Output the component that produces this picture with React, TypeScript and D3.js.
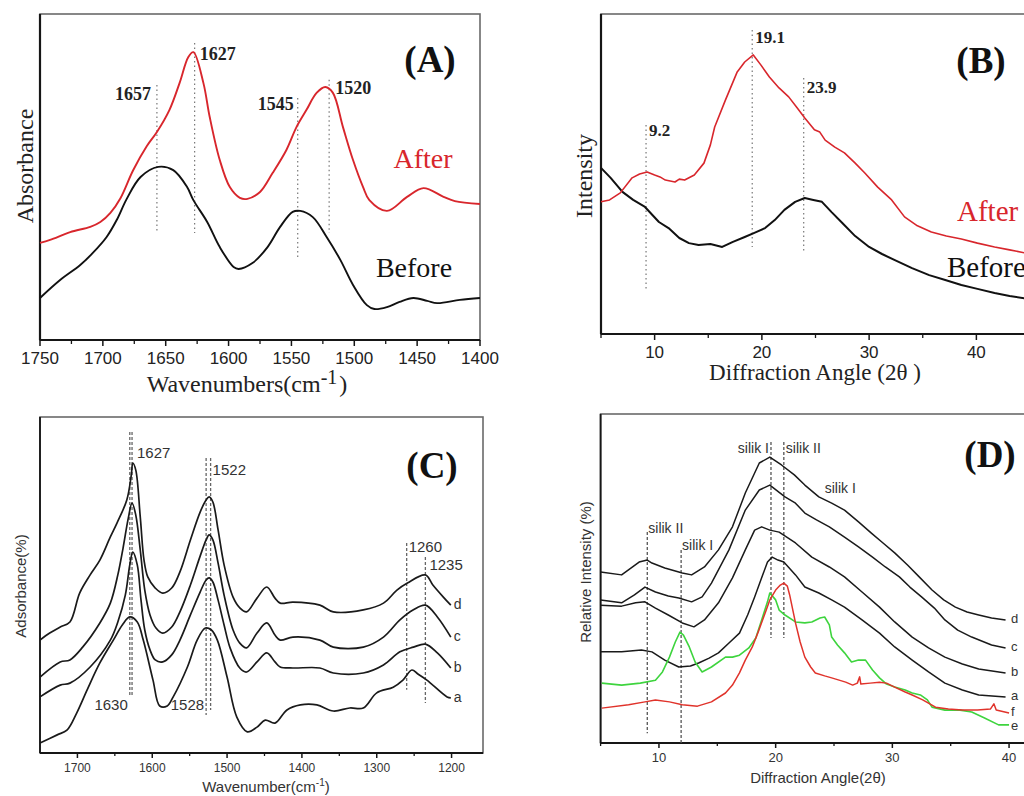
import React from 'react';
import * as d3 from 'd3';

type Pt = [number, number];
type Box = { x0: number; x1: number; y0: number; y1: number };

const SERIF = '"Liberation Serif", "DejaVu Serif", serif';
const SANS = '"Liberation Sans", Arial, sans-serif';
const RED = '#d8262c';
const GREEN = '#3ed43e';

// ---------- (A) FTIR, wavenumber vs absorbance (a.u.)
const aAfter: Pt[] = [
  [1750, 29.8], [1742, 30.7], [1726, 33.1], [1710, 34.7], [1702, 36.2], [1694, 39.0], [1686, 43.5],
  [1676, 52.0], [1665, 59.5], [1657, 63.8], [1647, 70.6], [1639, 78.8], [1632, 86.8], [1628, 88.3],
  [1620, 78.8], [1615, 68.4], [1607, 55.2], [1599, 46.9], [1591, 43.6], [1585, 43.3], [1575, 45.4],
  [1565, 51.2], [1554, 58.3], [1546, 65.3], [1538, 70.6], [1530, 75.8], [1523, 77.6], [1517, 75.8],
  [1509, 65.3], [1501, 55.2], [1493, 46.9], [1488, 42.9], [1474, 39.6], [1458, 43.9], [1445, 46.6],
  [1429, 43.9], [1420, 42.6], [1400, 41.7],
];
const aBefore: Pt[] = [
  [1750, 12.9], [1734, 18.4], [1718, 23.0], [1708, 26.7], [1697, 31.6], [1689, 36.8], [1681, 43.3],
  [1670, 50.0], [1656, 53.1], [1644, 52.1], [1633, 46.9], [1628, 42.9], [1617, 36.2], [1607, 28.5],
  [1596, 22.4], [1592, 21.8], [1581, 23.6], [1569, 28.5], [1559, 34.7], [1549, 39.3], [1543, 39.6],
  [1533, 37.7], [1522, 31.6], [1511, 24.5], [1501, 16.9], [1490, 10.7], [1484, 9.5], [1474, 10.1],
  [1464, 11.7], [1453, 12.9], [1442, 12.0], [1434, 11.3], [1416, 12.3], [1400, 12.9],
];
const aMajor = [1750, 1700, 1650, 1600, 1550, 1500, 1450, 1400];
const aMinor = [1725, 1675, 1625, 1575, 1525, 1475, 1425];
const aPeaks = [1657, 1627, 1545, 1520];
const aPeakTop = [78.2, 91.1, 74.2, 79.8];
const aPeakBottom = [32.8, 32.8, 24.8, 32.8];

// ---------- (B) XRD, 2theta vs intensity
const bAfter: Pt[] = [
  [5.0, 41.3], [5.8, 41.9], [6.8, 44.1], [7.9, 48.8], [8.6, 50.0], [9.3, 50.6], [10.0, 49.7], [10.5, 49.1],
  [11.0, 48.1], [11.9, 47.5], [12.3, 48.4], [12.8, 48.1], [13.7, 49.7], [14.6, 53.4], [15.2, 59.1],
  [15.6, 64.7], [16.6, 73.1], [17.7, 81.9], [18.4, 85.0], [19.2, 87.2], [19.9, 84.1], [20.7, 80.3],
  [21.6, 76.9], [22.5, 74.1], [23.3, 70.6], [24.0, 67.5], [24.9, 63.8], [25.4, 63.1], [25.9, 60.6],
  [26.8, 58.4], [27.7, 56.6], [28.7, 53.4], [29.6, 50.3], [30.8, 45.9], [32.1, 41.9], [33.3, 36.6],
  [34.5, 33.8], [35.8, 31.9], [37.2, 30.6], [38.6, 29.7], [40.1, 28.4], [41.7, 27.2], [43.1, 26.3],
  [45.0, 25.0],
];
const bBefore: Pt[] = [
  [5.0, 51.9], [5.9, 48.8], [7.0, 44.4], [8.0, 41.9], [9.1, 39.7], [10.4, 35.0], [11.3, 33.1],
  [12.3, 30.0], [13.2, 28.4], [14.1, 27.8], [15.2, 28.1], [16.3, 27.2], [17.3, 28.8], [18.4, 30.3],
  [19.3, 31.6], [20.3, 33.1], [21.2, 35.6], [22.1, 38.8], [23.1, 41.3], [24.0, 42.5], [24.8, 41.9],
  [25.6, 41.3], [26.5, 38.1], [27.5, 34.7], [28.7, 30.6], [30.0, 27.2], [31.2, 25.0], [32.4, 23.1],
  [34.0, 20.6], [35.6, 18.4], [37.1, 16.9], [38.6, 15.3], [40.1, 14.1], [41.7, 12.8], [43.1, 11.9],
  [45.0, 10.9],
];
const bMajor = [10, 20, 30, 40];
const bMinor = [5, 15, 25, 35, 45];
const bPeaks = [9.2, 19.1, 23.9];
const bPeakTop = [65.3, 95.0, 80.0];
const bPeakBottom = [13.8, 27.2, 25.6];

// ---------- (C) FTIR of samples a-d
const cA: Pt[] = [
  [1750, 3.0], [1727, 5.4], [1714, 6.8], [1701, 11.9], [1687, 18.8], [1670, 26.8], [1652, 33.6],
  [1640, 38.1], [1630, 40.5], [1620, 39.0], [1612, 33.6], [1599, 21.7], [1590, 14.0], [1580, 14.0],
  [1572, 16.7], [1553, 25.6], [1540, 33.6], [1529, 37.2], [1521, 36.6], [1513, 33.6], [1500, 22.6],
  [1487, 10.7], [1473, 6.3], [1460, 7.7], [1449, 9.8], [1436, 8.9], [1420, 12.8], [1402, 14.3],
  [1380, 14.3], [1358, 12.5], [1336, 13.4], [1318, 13.4], [1300, 17.9], [1278, 19.6], [1265, 21.7],
  [1253, 24.7], [1245, 23.5], [1233, 21.7], [1206, 16.7], [1201, 16.4],
];
const cB: Pt[] = [
  [1750, 16.7], [1723, 20.2], [1710, 20.8], [1683, 25.6], [1656, 33.6], [1646, 39.0], [1636, 47.0],
  [1630, 56.0], [1626, 59.8], [1620, 56.0], [1615, 45.5], [1610, 36.6], [1603, 30.7], [1596, 27.7],
  [1586, 27.1], [1574, 29.2], [1563, 33.6], [1549, 41.1], [1536, 47.9], [1528, 51.5], [1524, 52.1],
  [1519, 50.9], [1512, 45.5], [1504, 38.1], [1496, 31.3], [1483, 25.3], [1474, 24.1], [1460, 27.1],
  [1447, 29.8], [1436, 27.1], [1429, 25.6], [1412, 25.3], [1376, 25.3], [1358, 23.8], [1318, 23.8],
  [1291, 26.2], [1269, 30.1], [1251, 31.5], [1235, 32.4], [1219, 29.8], [1201, 25.3],
];
const cC: Pt[] = [
  [1750, 22.6], [1723, 27.1], [1710, 27.7], [1693, 31.5], [1670, 38.7], [1656, 44.6], [1646, 53.0],
  [1639, 61.0], [1632, 69.9], [1627, 74.4], [1622, 70.8], [1616, 60.4], [1610, 48.5], [1603, 41.1],
  [1595, 37.2], [1586, 35.7], [1574, 37.5], [1563, 42.0], [1549, 50.0], [1536, 58.6], [1528, 63.4],
  [1524, 64.9], [1519, 63.4], [1512, 56.5], [1504, 47.0], [1492, 36.6], [1483, 32.7], [1474, 31.3],
  [1460, 35.7], [1447, 38.7], [1436, 35.1], [1429, 33.6], [1412, 34.5], [1376, 33.6], [1358, 31.5],
  [1318, 31.5], [1291, 34.5], [1269, 39.6], [1251, 42.6], [1235, 44.0], [1219, 40.5], [1201, 34.5],
];
const cD: Pt[] = [
  [1750, 33.6], [1737, 35.7], [1723, 37.5], [1710, 39.0], [1697, 47.6], [1683, 53.0], [1670, 57.4],
  [1656, 64.3], [1647, 68.5], [1634, 75.3], [1628, 82.7], [1626, 86.3], [1622, 84.2], [1616, 70.2],
  [1611, 57.4], [1606, 52.4], [1596, 49.1], [1586, 47.6], [1574, 49.1], [1563, 53.9], [1549, 63.4],
  [1536, 71.7], [1528, 75.3], [1524, 76.2], [1519, 74.7], [1512, 66.4], [1504, 56.0], [1492, 46.4],
  [1483, 43.2], [1474, 42.0], [1460, 46.1], [1447, 49.4], [1436, 46.1], [1429, 44.6], [1412, 44.9],
  [1376, 44.0], [1358, 42.0], [1318, 42.6], [1291, 44.6], [1273, 48.5], [1259, 50.6], [1235, 53.0],
  [1225, 50.0], [1211, 46.4], [1201, 44.0],
];
const cSeries = [cA, cB, cC, cD];
const cNames = ['a', 'b', 'c', 'd'];
const cMajor = [1700, 1600, 1500, 1400, 1300, 1200];
const cMinor = [1650, 1550, 1450, 1350, 1250];
const cGuides = [1630, 1627, 1528, 1522, 1260, 1235];
const cGuideTop = [95.5, 95.5, 87.8, 87.8, 62.5, 58.3];
const cGuideBottom = [16.7, 16.7, 11.3, 12.8, 18.8, 14.9];

// ---------- (D) XRD of samples a-f
const dA: Pt[] = [
  [5.0, 27.7], [6.8, 27.7], [8.5, 28.3], [9.4, 27.7], [10.5, 25.2], [11.7, 23.1], [12.7, 23.4],
  [13.4, 24.3], [14.3, 25.8], [15.1, 27.4], [16.0, 30.4], [16.9, 33.4], [17.6, 38.9], [18.2, 44.4],
  [18.8, 50.2], [19.3, 55.0], [19.7, 56.5], [20.2, 55.6], [20.7, 55.0], [21.7, 51.1], [22.5, 47.4],
  [23.7, 45.6], [24.8, 43.5], [25.9, 41.3], [27.4, 37.4], [28.9, 33.4], [30.2, 29.2], [31.7, 25.2],
  [33.1, 21.6], [34.5, 18.2], [36.0, 16.1], [37.4, 14.6], [39.7, 14.0],
];
const dB: Pt[] = [
  [5.0, 41.9], [6.8, 41.6], [8.0, 42.6], [8.8, 42.9], [9.7, 41.0], [10.8, 38.9], [12.0, 36.5],
  [13.0, 35.3], [13.9, 37.4], [15.1, 42.6], [16.3, 50.2], [17.4, 58.7], [18.2, 64.7], [18.8, 65.7],
  [19.5, 64.7], [20.3, 64.1], [21.7, 60.8], [23.1, 56.5], [24.6, 53.5], [25.9, 50.5], [27.4, 45.9],
  [28.9, 41.3], [30.2, 36.8], [31.7, 32.2], [33.1, 28.9], [34.5, 26.1], [36.0, 24.0], [37.4, 22.5],
  [39.7, 21.3],
];
const dC: Pt[] = [
  [5.0, 43.5], [6.8, 42.6], [7.9, 45.0], [8.8, 47.4], [9.7, 45.9], [10.8, 44.7], [11.7, 44.1],
  [12.8, 42.9], [13.7, 44.4], [14.5, 48.6], [16.0, 58.7], [17.4, 70.8], [18.6, 76.9], [19.5, 78.4],
  [20.8, 74.8], [21.7, 72.9], [22.5, 69.9], [23.5, 67.8], [24.6, 65.7], [25.9, 62.6], [27.1, 59.6],
  [28.3, 56.5], [29.4, 53.5], [30.6, 50.5], [31.5, 47.4], [32.5, 44.4], [33.6, 41.0], [34.5, 37.4],
  [35.6, 34.3], [36.8, 32.2], [38.5, 29.8], [39.7, 28.9],
];
const dD: Pt[] = [
  [5.0, 52.0], [6.8, 51.1], [8.3, 55.0], [9.0, 55.6], [9.4, 54.7], [10.5, 53.2], [12.0, 51.7],
  [12.8, 51.1], [13.9, 53.5], [15.1, 58.7], [16.3, 65.7], [17.4, 76.0], [18.6, 85.1], [19.5, 86.9],
  [20.5, 84.5], [21.6, 81.5], [22.5, 78.4], [23.7, 74.8], [24.8, 72.9], [25.9, 70.8], [27.1, 67.2],
  [28.2, 63.8], [29.2, 60.8], [30.2, 57.8], [31.3, 54.1], [32.3, 50.5], [33.4, 46.5], [34.4, 43.5],
  [35.4, 41.3], [36.4, 39.8], [37.4, 38.9], [38.5, 38.0], [39.7, 37.4],
];
const dE: Pt[] = [
  [5.1, 18.2], [6.8, 17.6], [8.4, 18.2], [9.7, 19.1], [10.3, 21.6], [10.9, 26.1], [11.4, 30.7],
  [11.8, 33.7], [12.1, 32.8], [12.6, 29.2], [13.1, 24.6], [13.7, 21.6], [14.5, 23.1], [15.7, 26.1],
  [16.3, 26.1], [16.9, 26.7], [17.7, 28.9], [18.3, 31.9], [18.8, 37.4], [19.3, 42.9], [19.5, 45.6],
  [20.0, 43.5], [20.3, 40.4], [20.8, 38.9], [21.7, 36.8], [22.5, 36.5], [23.1, 36.8], [23.8, 38.0],
  [24.2, 38.3], [24.6, 35.9], [24.8, 32.2], [25.3, 29.8], [25.9, 27.4], [26.5, 24.6], [27.1, 25.2],
  [27.7, 25.2], [28.3, 22.2], [28.9, 19.8], [29.5, 17.9], [30.2, 17.0], [31.1, 16.1], [31.7, 15.2],
  [32.4, 14.6], [33.0, 13.1], [33.4, 10.9], [34.5, 10.0], [35.8, 10.0], [36.8, 9.4], [37.9, 7.6],
  [39.1, 5.5], [40.0, 5.5],
];
const dF: Pt[] = [
  [5.1, 10.6], [7.4, 11.6], [8.8, 12.5], [9.7, 13.1], [10.9, 12.5], [12.0, 11.6], [13.3, 11.2],
  [14.5, 12.5], [15.7, 15.2], [16.3, 17.6], [16.9, 21.3], [17.4, 25.2], [18.0, 29.2], [18.5, 33.7],
  [19.1, 39.5], [19.5, 43.5], [20.0, 46.5], [20.4, 48.0], [20.7, 48.6], [21.0, 47.7], [21.2, 45.0],
  [21.7, 36.5], [22.1, 30.7], [22.5, 26.1], [23.0, 23.1], [23.4, 21.3], [24.2, 20.4], [24.8, 19.8],
  [26.0, 18.5], [26.6, 17.6], [27.0, 18.2], [27.2, 20.1], [27.3, 17.9], [28.1, 18.2], [28.9, 18.5],
  [29.5, 18.2], [30.2, 17.0], [31.1, 15.5], [31.7, 14.6], [32.6, 13.1], [33.7, 10.9], [34.8, 10.3],
  [36.0, 10.0], [37.3, 10.0], [38.4, 10.3], [38.7, 11.9], [38.9, 10.0], [40.0, 9.1],
];
const dBlack = [dA, dB, dC, dD];
const dNames = ['d', 'c', 'b', 'a', 'f', 'e'];
const dEnds = [dD, dC, dB, dA, dF, dE];
const dMajor = [10, 20, 30, 40];
const dMinor = [5, 15, 25, 35];
const dGuides = [9.0, 11.9, 19.6, 20.7];
const dGuideTop = [64.1, 58.7, 91.5, 91.5];
const dGuideBottom = [3.0, 0, 31.9, 31.9];

type Scale = d3.ScaleLinear<number, number>;

function Axes(p: {
  b: Box; xs: Scale; major: number[]; minor: number[]; font: string; size: number;
  gap: number; majorLen: number; minorLen: number; axisW: number; color?: string;
}) {
  const { b, xs } = p;
  return (
    <g>
      <rect x={b.x0} y={b.y0} width={b.x1 - b.x0} height={b.y1 - b.y0} fill="none" stroke="#6a6a6a" strokeWidth={1.6} />
      <line x1={b.x0} x2={b.x0} y1={b.y0} y2={b.y1} stroke="#161616" strokeWidth={p.axisW} />
      <line x1={b.x0} x2={b.x1} y1={b.y1} y2={b.y1} stroke="#161616" strokeWidth={p.axisW} />
      {p.minor.map(t => (
        <line key={'m' + t} x1={xs(t)} x2={xs(t)} y1={b.y1} y2={b.y1 + p.minorLen} stroke="#161616" strokeWidth={1.3} />
      ))}
      {p.major.map(t => (
        <g key={t}>
          <line x1={xs(t)} x2={xs(t)} y1={b.y1} y2={b.y1 + p.majorLen} stroke="#161616" strokeWidth={1.5} />
          <text x={xs(t)} y={b.y1 + p.gap} textAnchor="middle" fontFamily={p.font} fontSize={p.size} fill={p.color || '#222'}>{t}</text>
        </g>
      ))}
    </g>
  );
}

function PanelA() {
  const b: Box = { x0: 40, x1: 480, y0: 14, y1: 340 };
  const xs = d3.scaleLinear().domain([1750, 1400]).range([b.x0, b.x1]);
  const ys = d3.scaleLinear().domain([0, 100]).range([b.y1, b.y0]);
  const line = d3.line<Pt>().x(d => xs(d[0])).y(d => ys(d[1])).curve(d3.curveCatmullRom.alpha(0.5));
  const lab = { fontFamily: SERIF, fontWeight: 700, fontSize: 18, fill: '#222' } as const;
  return (
    <g>
      <Axes b={b} xs={xs} major={aMajor} minor={aMinor} font={SANS} size={17} gap={24} majorLen={6} minorLen={4} axisW={2.2} />
      {aPeaks.map((p, i) => (
        <line key={p} x1={xs(p)} x2={xs(p)} y1={ys(aPeakTop[i])} y2={ys(aPeakBottom[i])} stroke="#777" strokeWidth={1.2} strokeDasharray="1.5 3" />
      ))}
      <path d={line(aBefore) || ''} fill="none" stroke="#111" strokeWidth={1.9} />
      <path d={line(aAfter) || ''} fill="none" stroke={RED} strokeWidth={1.9} />
      <text {...lab} x={xs(1657) - 6} y={ys(73.6)} textAnchor="end">1657</text>
      <text {...lab} x={xs(1627) + 5} y={ys(85.9)}>1627</text>
      <text {...lab} x={xs(1545) - 4} y={ys(70.6)} textAnchor="end">1545</text>
      <text {...lab} x={xs(1520) + 6} y={ys(75.5)}>1520</text>
      <text x={430} y={72} textAnchor="middle" fontFamily={SERIF} fontWeight={700} fontSize={37} fill="#111">(A)</text>
      <text x={423} y={168} textAnchor="middle" fontFamily={SERIF} fontSize={28} fill={RED}>After</text>
      <text x={414} y={277} textAnchor="middle" fontFamily={SERIF} fontSize={28} fill="#111">Before</text>
      <text transform="translate(33,166) rotate(-90)" textAnchor="middle" fontFamily={SERIF} fontSize={24} fill="#222">Absorbance</text>
      <text x={247} y={392} textAnchor="middle" fontFamily={SERIF} fontSize={24} fill="#222">
        <tspan>Wavenumbers(cm</tspan>
        <tspan dy={-8} fontSize={20}>-1</tspan>
        <tspan dy={8} dx={2}>)</tspan>
      </text>
    </g>
  );
}

function PanelB() {
  const b: Box = { x0: 601, x1: 1030, y0: 14, y1: 334 };
  const xs = d3.scaleLinear().domain([5, 45]).range([b.x0, b.x1]);
  const ys = d3.scaleLinear().domain([0, 100]).range([b.y1, b.y0]);
  const line = d3.line<Pt>().x(d => xs(d[0])).y(d => ys(d[1]));
  const lab = { fontFamily: SERIF, fontWeight: 700, fontSize: 17, fill: '#222' } as const;
  return (
    <g>
      <Axes b={b} xs={xs} major={bMajor} minor={bMinor} font={SANS} size={17} gap={24} majorLen={6} minorLen={4} axisW={2.2} />
      {bPeaks.map((p, i) => (
        <line key={p} x1={xs(p)} x2={xs(p)} y1={ys(bPeakTop[i])} y2={ys(bPeakBottom[i])} stroke="#777" strokeWidth={1.2} strokeDasharray="1.5 3" />
      ))}
      <path d={line(bBefore) || ''} fill="none" stroke="#111" strokeWidth={2} strokeLinejoin="round" />
      <path d={line(bAfter) || ''} fill="none" stroke={RED} strokeWidth={1.6} strokeLinejoin="round" />
      <text {...lab} x={xs(9.2) + 3} y={ys(61.9)}>9.2</text>
      <text {...lab} x={xs(19.1) + 3} y={ys(91)}>19.1</text>
      <text {...lab} x={xs(23.9) + 3} y={ys(75.3)}>23.9</text>
      <text x={981} y={73} textAnchor="middle" fontFamily={SERIF} fontWeight={700} fontSize={37} fill="#111">(B)</text>
      <text x={957} y={221} fontFamily={SERIF} fontSize={29} fill={RED}>After</text>
      <text x={947} y={277} fontFamily={SERIF} fontSize={29} fill="#111">Before</text>
      <text transform="translate(592,176) rotate(-90)" textAnchor="middle" fontFamily={SERIF} fontSize={24} fill="#222">Intensity</text>
      <text x={815} y={380} textAnchor="middle" fontFamily={SERIF} fontSize={23} fill="#222">Diffraction Angle (2θ )</text>
    </g>
  );
}

function PanelC() {
  const b: Box = { x0: 40, x1: 483, y0: 417, y1: 753 };
  const xs = d3.scaleLinear().domain([1750, 1158]).range([b.x0, b.x1]);
  const ys = d3.scaleLinear().domain([0, 100]).range([b.y1, b.y0]);
  const line = d3.line<Pt>().x(d => xs(d[0])).y(d => ys(d[1])).curve(d3.curveCatmullRom.alpha(0.5));
  const lab = { fontFamily: SANS, fontSize: 15, fill: '#333' } as const;
  return (
    <g>
      <Axes b={b} xs={xs} major={cMajor} minor={cMinor} font={SANS} size={12} gap={19} majorLen={5} minorLen={3} axisW={1.8} color="#333" />
      {cGuides.map((p, i) => (
        <line key={p} x1={xs(p)} x2={xs(p)} y1={ys(cGuideTop[i])} y2={ys(cGuideBottom[i])} stroke="#666" strokeWidth={1.3} strokeDasharray="3 2" />
      ))}
      {cSeries.map((s, i) => (
        <g key={cNames[i]}>
          <path d={line(s) || ''} fill="none" stroke="#1a1a1a" strokeWidth={1.7} />
          <text x={xs(s[s.length - 1][0]) + 3} y={ys(s[s.length - 1][1]) + 4} fontFamily={SANS} fontSize={14} fill="#333">{cNames[i]}</text>
        </g>
      ))}
      <text {...lab} x={xs(1627) + 5} y={458}>1627</text>
      <text {...lab} x={xs(1522) + 2} y={475}>1522</text>
      <text {...lab} x={xs(1260) + 2} y={552}>1260</text>
      <text {...lab} x={xs(1235) + 4} y={570}>1235</text>
      <text {...lab} x={xs(1630) - 2} y={710} textAnchor="end">1630</text>
      <text {...lab} x={xs(1528) - 2} y={710} textAnchor="end">1528</text>
      <text x={432} y={478} textAnchor="middle" fontFamily={SERIF} fontWeight={700} fontSize={37} fill="#111">(C)</text>
      <text transform="translate(26,586) rotate(-90)" textAnchor="middle" fontFamily={SANS} fontSize={15} fill="#333">Adsorbance(%)</text>
      <text x={266} y={792} textAnchor="middle" fontFamily={SANS} fontSize={15} fill="#333">
        <tspan>Wavenumber(cm</tspan>
        <tspan dy={-6} fontSize={10}>-1</tspan>
        <tspan dy={6}>)</tspan>
      </text>
    </g>
  );
}

function PanelD() {
  const b: Box = { x0: 600.6, x1: 1032.4, y0: 414, y1: 743 };
  const xs = d3.scaleLinear().domain([5, 42]).range([b.x0, b.x1]);
  const ys = d3.scaleLinear().domain([0, 100]).range([b.y1, b.y0]);
  const line = d3.line<Pt>().x(d => xs(d[0])).y(d => ys(d[1]));
  const lab = { fontFamily: SANS, fontSize: 14, fill: '#333' } as const;
  return (
    <g>
      <Axes b={b} xs={xs} major={dMajor} minor={dMinor} font={SANS} size={13} gap={19} majorLen={5} minorLen={3} axisW={1.8} color="#333" />
      {dGuides.map((p, i) => (
        <line key={p} x1={xs(p)} x2={xs(p)} y1={ys(dGuideTop[i])} y2={ys(dGuideBottom[i])} stroke="#555" strokeWidth={1.3} strokeDasharray="3 2" />
      ))}
      {dBlack.map((s, i) => (
        <path key={i} d={line(s) || ''} fill="none" stroke="#1a1a1a" strokeWidth={1.5} strokeLinejoin="round" />
      ))}
      <path d={line(dE) || ''} fill="none" stroke={GREEN} strokeWidth={1.6} strokeLinejoin="round" />
      <path d={line(dF) || ''} fill="none" stroke="#e0332b" strokeWidth={1.5} strokeLinejoin="round" />
      {dEnds.map((s, i) => (
        <text key={dNames[i]} x={xs(40) + 2} y={ys(s[s.length - 1][1]) + (i === 5 ? 5 : 3)} fontFamily={SANS} fontSize={13} fill="#333">{dNames[i]}</text>
      ))}
      <text {...lab} x={xs(19.6) - 2} y={453} textAnchor="end">silik I</text>
      <text {...lab} x={xs(20.7) + 2} y={453}>silik II</text>
      <text {...lab} x={xs(24.2)} y={493}>silik I</text>
      <text {...lab} x={xs(9.0) + 1} y={533}>silik II</text>
      <text {...lab} x={xs(11.9) + 1} y={550}>silik I</text>
      <text x={990} y={467} textAnchor="middle" fontFamily={SERIF} fontWeight={700} fontSize={37} fill="#111">(D)</text>
      <text transform="translate(591,572) rotate(-90)" textAnchor="middle" fontFamily={SANS} fontSize={15} fill="#333">Relative Intensity (%)</text>
      <text x={818} y={783} textAnchor="middle" fontFamily={SANS} fontSize={15} fill="#333">Diffraction Angle(2θ)</text>
    </g>
  );
}

export default function App() {
  return (
    <svg width={1024} height={796} viewBox="0 0 1024 796" style={{ position: 'absolute', left: 0, top: 0, display: 'block', background: '#fff' }}>
      <PanelA />
      <PanelB />
      <PanelC />
      <PanelD />
    </svg>
  );
}
